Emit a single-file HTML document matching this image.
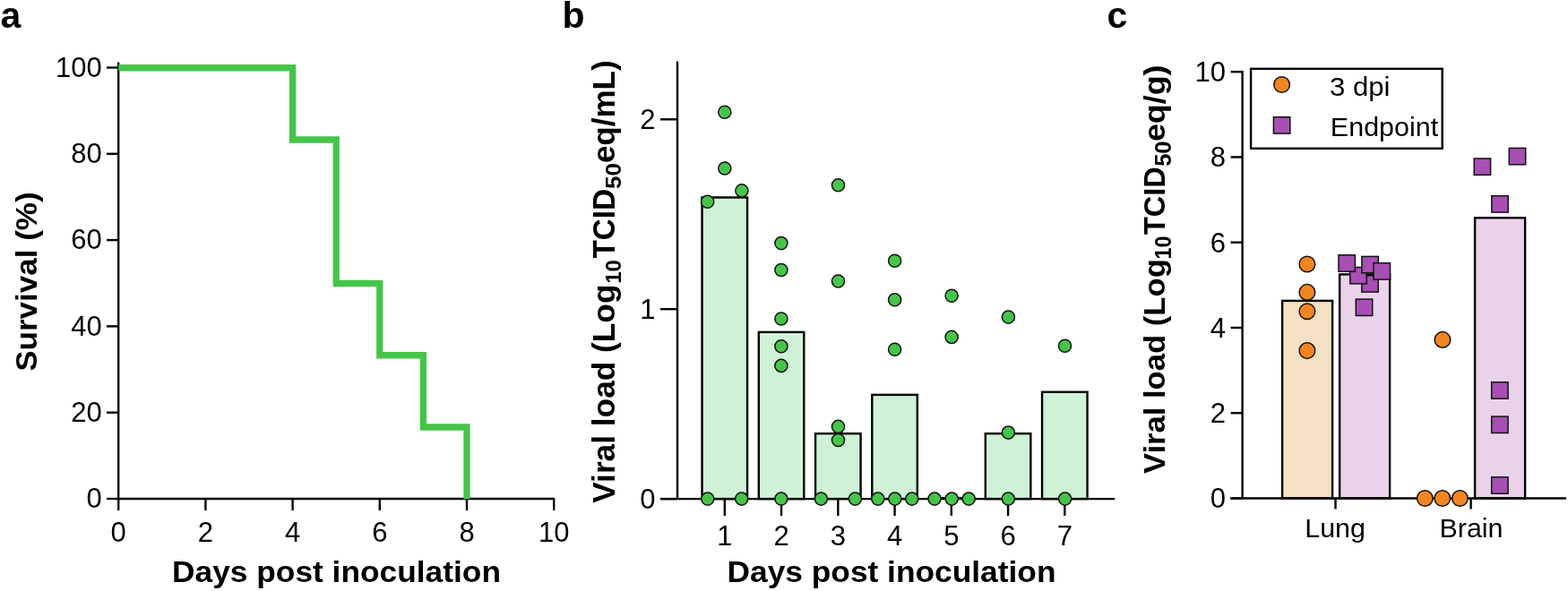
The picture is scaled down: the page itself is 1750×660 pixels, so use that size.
<!DOCTYPE html>
<html><head><meta charset="utf-8"><title>Figure</title>
<style>
html,body{margin:0;padding:0;background:#fff;}
body{width:1750px;height:660px;overflow:hidden;}
svg{display:block;}
text{font-family:"Liberation Sans", Arial, sans-serif;fill:#000;}
</style></head>
<body>
<svg width="1750" height="660" viewBox="0 0 1750 660">
<rect width="1750" height="660" fill="#fff"/>
<text x="0.50" y="31.00" font-size="41" text-anchor="start" font-weight="bold" >a</text>
<line x1="132.20" y1="69.50" x2="132.20" y2="558.20" stroke="#000" stroke-width="2.4" stroke-linecap="butt"/>
<line x1="119.00" y1="557.00" x2="132.20" y2="557.00" stroke="#000" stroke-width="2.4" stroke-linecap="butt"/>
<text x="113.80" y="567.30" font-size="31" text-anchor="end" font-weight="normal" >0</text>
<line x1="119.00" y1="460.70" x2="132.20" y2="460.70" stroke="#000" stroke-width="2.4" stroke-linecap="butt"/>
<text x="113.80" y="471.00" font-size="31" text-anchor="end" font-weight="normal" >20</text>
<line x1="119.00" y1="364.40" x2="132.20" y2="364.40" stroke="#000" stroke-width="2.4" stroke-linecap="butt"/>
<text x="113.80" y="374.70" font-size="31" text-anchor="end" font-weight="normal" >40</text>
<line x1="119.00" y1="268.10" x2="132.20" y2="268.10" stroke="#000" stroke-width="2.4" stroke-linecap="butt"/>
<text x="113.80" y="278.40" font-size="31" text-anchor="end" font-weight="normal" >60</text>
<line x1="119.00" y1="171.80" x2="132.20" y2="171.80" stroke="#000" stroke-width="2.4" stroke-linecap="butt"/>
<text x="113.80" y="182.10" font-size="31" text-anchor="end" font-weight="normal" >80</text>
<line x1="119.00" y1="75.50" x2="132.20" y2="75.50" stroke="#000" stroke-width="2.4" stroke-linecap="butt"/>
<text x="113.80" y="85.80" font-size="31" text-anchor="end" font-weight="normal" >100</text>
<line x1="131.00" y1="557.00" x2="619.00" y2="557.00" stroke="#000" stroke-width="2.4" stroke-linecap="butt"/>
<line x1="132.20" y1="557.00" x2="132.20" y2="570.00" stroke="#000" stroke-width="2.4" stroke-linecap="butt"/>
<text x="132.20" y="605.10" font-size="31" text-anchor="middle" font-weight="normal" >0</text>
<line x1="229.40" y1="557.00" x2="229.40" y2="570.00" stroke="#000" stroke-width="2.4" stroke-linecap="butt"/>
<text x="229.40" y="605.10" font-size="31" text-anchor="middle" font-weight="normal" >2</text>
<line x1="326.60" y1="557.00" x2="326.60" y2="570.00" stroke="#000" stroke-width="2.4" stroke-linecap="butt"/>
<text x="326.60" y="605.10" font-size="31" text-anchor="middle" font-weight="normal" >4</text>
<line x1="423.80" y1="557.00" x2="423.80" y2="570.00" stroke="#000" stroke-width="2.4" stroke-linecap="butt"/>
<text x="423.80" y="605.10" font-size="31" text-anchor="middle" font-weight="normal" >6</text>
<line x1="521.00" y1="557.00" x2="521.00" y2="570.00" stroke="#000" stroke-width="2.4" stroke-linecap="butt"/>
<text x="521.00" y="605.10" font-size="31" text-anchor="middle" font-weight="normal" >8</text>
<line x1="618.20" y1="557.00" x2="618.20" y2="570.00" stroke="#000" stroke-width="2.4" stroke-linecap="butt"/>
<text x="618.20" y="605.10" font-size="31" text-anchor="middle" font-weight="normal" >10</text>
<path d="M132.20,75.75 L326.60,75.75 L326.60,156.00 L375.20,156.00 L375.20,316.50 L423.80,316.50 L423.80,396.75 L472.40,396.75 L472.40,477.00 L521.00,477.00 L521.00,557.25" fill="none" stroke="#46c44a" stroke-width="7.3" stroke-linejoin="miter"/>
<text x="0" y="0" font-size="34" text-anchor="middle" font-weight="bold" transform="translate(40.60 314.60) rotate(-90) scale(1.0300 1)">Survival (%)</text>
<text x="0" y="0" font-size="34" text-anchor="middle" font-weight="bold" transform="translate(375.50 650.10) scale(1.0390 1)">Days post inoculation</text>
<text x="627.50" y="31.00" font-size="41" text-anchor="start" font-weight="bold" >b</text>
<rect x="783.55" y="220.50" width="50.5" height="336.60" fill="#cff2d6" stroke="#000" stroke-width="2.4"/>
<rect x="846.80" y="370.90" width="50.5" height="186.20" fill="#cff2d6" stroke="#000" stroke-width="2.4"/>
<rect x="910.05" y="484.20" width="50.5" height="72.90" fill="#cff2d6" stroke="#000" stroke-width="2.4"/>
<rect x="973.30" y="440.90" width="50.5" height="116.20" fill="#cff2d6" stroke="#000" stroke-width="2.4"/>
<rect x="1099.80" y="484.20" width="50.5" height="72.90" fill="#cff2d6" stroke="#000" stroke-width="2.4"/>
<rect x="1163.05" y="437.80" width="50.5" height="119.30" fill="#cff2d6" stroke="#000" stroke-width="2.4"/>
<line x1="1035.35" y1="556.30" x2="1088.25" y2="556.30" stroke="#000" stroke-width="2.4" stroke-linecap="butt"/>
<line x1="756.00" y1="68.50" x2="756.00" y2="557.10" stroke="#000" stroke-width="2.4" stroke-linecap="butt"/>
<line x1="737.00" y1="557.10" x2="756.00" y2="557.10" stroke="#000" stroke-width="2.4" stroke-linecap="butt"/>
<text x="731.50" y="568.00" font-size="31" text-anchor="end" font-weight="normal" >0</text>
<line x1="737.00" y1="345.20" x2="756.00" y2="345.20" stroke="#000" stroke-width="2.4" stroke-linecap="butt"/>
<text x="731.50" y="356.10" font-size="31" text-anchor="end" font-weight="normal" >1</text>
<line x1="737.00" y1="133.30" x2="756.00" y2="133.30" stroke="#000" stroke-width="2.4" stroke-linecap="butt"/>
<text x="731.50" y="144.20" font-size="31" text-anchor="end" font-weight="normal" >2</text>
<line x1="737.00" y1="557.10" x2="1244.20" y2="557.10" stroke="#000" stroke-width="2.4" stroke-linecap="butt"/>
<line x1="808.80" y1="557.10" x2="808.80" y2="576.00" stroke="#000" stroke-width="2.4" stroke-linecap="butt"/>
<text x="808.80" y="609.00" font-size="31" text-anchor="middle" font-weight="normal" >1</text>
<line x1="872.05" y1="557.10" x2="872.05" y2="576.00" stroke="#000" stroke-width="2.4" stroke-linecap="butt"/>
<text x="872.05" y="609.00" font-size="31" text-anchor="middle" font-weight="normal" >2</text>
<line x1="935.30" y1="557.10" x2="935.30" y2="576.00" stroke="#000" stroke-width="2.4" stroke-linecap="butt"/>
<text x="935.30" y="609.00" font-size="31" text-anchor="middle" font-weight="normal" >3</text>
<line x1="998.55" y1="557.10" x2="998.55" y2="576.00" stroke="#000" stroke-width="2.4" stroke-linecap="butt"/>
<text x="998.55" y="609.00" font-size="31" text-anchor="middle" font-weight="normal" >4</text>
<line x1="1061.80" y1="557.10" x2="1061.80" y2="576.00" stroke="#000" stroke-width="2.4" stroke-linecap="butt"/>
<text x="1061.80" y="609.00" font-size="31" text-anchor="middle" font-weight="normal" >5</text>
<line x1="1125.05" y1="557.10" x2="1125.05" y2="576.00" stroke="#000" stroke-width="2.4" stroke-linecap="butt"/>
<text x="1125.05" y="609.00" font-size="31" text-anchor="middle" font-weight="normal" >6</text>
<line x1="1188.30" y1="557.10" x2="1188.30" y2="576.00" stroke="#000" stroke-width="2.4" stroke-linecap="butt"/>
<text x="1188.30" y="609.00" font-size="31" text-anchor="middle" font-weight="normal" >7</text>
<circle cx="808.80" cy="125.30" r="7.05" fill="#46c44a" stroke="#111" stroke-width="1.5"/>
<circle cx="808.80" cy="188.00" r="7.05" fill="#46c44a" stroke="#111" stroke-width="1.5"/>
<circle cx="827.90" cy="212.90" r="7.05" fill="#46c44a" stroke="#111" stroke-width="1.5"/>
<circle cx="789.70" cy="225.20" r="7.05" fill="#46c44a" stroke="#111" stroke-width="1.5"/>
<circle cx="789.80" cy="557.10" r="7.05" fill="#46c44a" stroke="#111" stroke-width="1.5"/>
<circle cx="827.70" cy="557.10" r="7.05" fill="#46c44a" stroke="#111" stroke-width="1.5"/>
<circle cx="871.90" cy="271.60" r="7.05" fill="#46c44a" stroke="#111" stroke-width="1.5"/>
<circle cx="871.90" cy="301.50" r="7.05" fill="#46c44a" stroke="#111" stroke-width="1.5"/>
<circle cx="871.90" cy="356.00" r="7.05" fill="#46c44a" stroke="#111" stroke-width="1.5"/>
<circle cx="871.90" cy="386.80" r="7.05" fill="#46c44a" stroke="#111" stroke-width="1.5"/>
<circle cx="871.90" cy="408.40" r="7.05" fill="#46c44a" stroke="#111" stroke-width="1.5"/>
<circle cx="871.90" cy="557.10" r="7.05" fill="#46c44a" stroke="#111" stroke-width="1.5"/>
<circle cx="935.50" cy="206.70" r="7.05" fill="#46c44a" stroke="#111" stroke-width="1.5"/>
<circle cx="935.50" cy="314.00" r="7.05" fill="#46c44a" stroke="#111" stroke-width="1.5"/>
<circle cx="935.50" cy="476.40" r="7.05" fill="#46c44a" stroke="#111" stroke-width="1.5"/>
<circle cx="935.50" cy="491.50" r="7.05" fill="#46c44a" stroke="#111" stroke-width="1.5"/>
<circle cx="916.40" cy="557.10" r="7.05" fill="#46c44a" stroke="#111" stroke-width="1.5"/>
<circle cx="954.40" cy="557.10" r="7.05" fill="#46c44a" stroke="#111" stroke-width="1.5"/>
<circle cx="998.60" cy="291.20" r="7.05" fill="#46c44a" stroke="#111" stroke-width="1.5"/>
<circle cx="998.60" cy="334.80" r="7.05" fill="#46c44a" stroke="#111" stroke-width="1.5"/>
<circle cx="998.60" cy="390.30" r="7.05" fill="#46c44a" stroke="#111" stroke-width="1.5"/>
<circle cx="979.80" cy="557.10" r="7.05" fill="#46c44a" stroke="#111" stroke-width="1.5"/>
<circle cx="998.80" cy="557.10" r="7.05" fill="#46c44a" stroke="#111" stroke-width="1.5"/>
<circle cx="1017.80" cy="557.10" r="7.05" fill="#46c44a" stroke="#111" stroke-width="1.5"/>
<circle cx="1062.10" cy="330.30" r="7.05" fill="#46c44a" stroke="#111" stroke-width="1.5"/>
<circle cx="1062.10" cy="376.40" r="7.05" fill="#46c44a" stroke="#111" stroke-width="1.5"/>
<circle cx="1043.00" cy="557.10" r="7.05" fill="#46c44a" stroke="#111" stroke-width="1.5"/>
<circle cx="1062.20" cy="557.10" r="7.05" fill="#46c44a" stroke="#111" stroke-width="1.5"/>
<circle cx="1081.20" cy="557.10" r="7.05" fill="#46c44a" stroke="#111" stroke-width="1.5"/>
<circle cx="1125.40" cy="354.10" r="7.05" fill="#46c44a" stroke="#111" stroke-width="1.5"/>
<circle cx="1125.40" cy="483.10" r="7.05" fill="#46c44a" stroke="#111" stroke-width="1.5"/>
<circle cx="1125.30" cy="557.10" r="7.05" fill="#46c44a" stroke="#111" stroke-width="1.5"/>
<circle cx="1188.50" cy="386.30" r="7.05" fill="#46c44a" stroke="#111" stroke-width="1.5"/>
<circle cx="1188.60" cy="557.10" r="7.05" fill="#46c44a" stroke="#111" stroke-width="1.5"/>
<text x="0" y="0" font-size="34.4" font-weight="bold" transform="translate(685.50 561.80) rotate(-90) scale(1.0254 1)">Viral load (Log</text>
<text x="0" y="0" font-size="23" font-weight="bold" transform="translate(692.50 316.84) rotate(-90) scale(1.0417 1)">10</text>
<text x="0" y="0" font-size="34.4" font-weight="bold" transform="translate(685.50 288.50) rotate(-90) scale(0.9671 1)">TCID</text>
<text x="0" y="0" font-size="23" font-weight="bold" transform="translate(692.50 210.93) rotate(-90) scale(1.1333 1)">50</text>
<text x="0" y="0" font-size="34.4" font-weight="bold" transform="translate(685.50 182.12) rotate(-90) scale(1.0182 1)">eq/mL)</text>
<text x="0" y="0" font-size="34" text-anchor="middle" font-weight="bold" transform="translate(995.00 650.30) scale(1.0390 1)">Days post inoculation</text>
<text x="1235.50" y="31.00" font-size="41" text-anchor="start" font-weight="bold" >c</text>
<rect x="1431.10" y="335.90" width="56.0" height="220.60" fill="#f4e0c3" stroke="#000" stroke-width="2.4"/>
<rect x="1495.10" y="306.40" width="56.0" height="250.10" fill="#ead3ea" stroke="#000" stroke-width="2.4"/>
<rect x="1646.10" y="243.30" width="56.0" height="313.20" fill="#ead3ea" stroke="#000" stroke-width="2.4"/>
<line x1="1386.60" y1="79.00" x2="1386.60" y2="556.50" stroke="#000" stroke-width="2.4" stroke-linecap="butt"/>
<line x1="1373.60" y1="556.50" x2="1386.60" y2="556.50" stroke="#000" stroke-width="2.4" stroke-linecap="butt"/>
<text x="1368.00" y="567.40" font-size="31" text-anchor="end" font-weight="normal" >0</text>
<line x1="1373.60" y1="461.24" x2="1386.60" y2="461.24" stroke="#000" stroke-width="2.4" stroke-linecap="butt"/>
<text x="1368.00" y="472.14" font-size="31" text-anchor="end" font-weight="normal" >2</text>
<line x1="1373.60" y1="365.98" x2="1386.60" y2="365.98" stroke="#000" stroke-width="2.4" stroke-linecap="butt"/>
<text x="1368.00" y="376.88" font-size="31" text-anchor="end" font-weight="normal" >4</text>
<line x1="1373.60" y1="270.72" x2="1386.60" y2="270.72" stroke="#000" stroke-width="2.4" stroke-linecap="butt"/>
<text x="1368.00" y="281.62" font-size="31" text-anchor="end" font-weight="normal" >6</text>
<line x1="1373.60" y1="175.46" x2="1386.60" y2="175.46" stroke="#000" stroke-width="2.4" stroke-linecap="butt"/>
<text x="1368.00" y="186.36" font-size="31" text-anchor="end" font-weight="normal" >8</text>
<line x1="1373.60" y1="80.20" x2="1386.60" y2="80.20" stroke="#000" stroke-width="2.4" stroke-linecap="butt"/>
<text x="1368.00" y="91.10" font-size="31" text-anchor="end" font-weight="normal" >10</text>
<line x1="1373.20" y1="556.50" x2="1748.00" y2="556.50" stroke="#000" stroke-width="2.4" stroke-linecap="butt"/>
<line x1="1490.50" y1="556.50" x2="1490.50" y2="568.50" stroke="#000" stroke-width="2.4" stroke-linecap="butt"/>
<line x1="1641.60" y1="556.50" x2="1641.60" y2="568.50" stroke="#000" stroke-width="2.4" stroke-linecap="butt"/>
<text x="0" y="0" font-size="29" text-anchor="middle" font-weight="normal" transform="translate(1490.10 600.40) scale(1.0500 1)">Lung</text>
<text x="0" y="0" font-size="29" text-anchor="middle" font-weight="normal" transform="translate(1642.00 600.40) scale(1.0500 1)">Brain</text>
<circle cx="1458.90" cy="295.00" r="8.8" fill="#f08522" stroke="#111" stroke-width="1.5"/>
<circle cx="1458.90" cy="326.40" r="8.8" fill="#f08522" stroke="#111" stroke-width="1.5"/>
<circle cx="1458.90" cy="347.70" r="8.8" fill="#f08522" stroke="#111" stroke-width="1.5"/>
<circle cx="1458.90" cy="391.60" r="8.8" fill="#f08522" stroke="#111" stroke-width="1.5"/>
<circle cx="1610.00" cy="379.40" r="8.8" fill="#f08522" stroke="#111" stroke-width="1.5"/>
<circle cx="1590.30" cy="556.50" r="8.8" fill="#f08522" stroke="#111" stroke-width="1.5"/>
<circle cx="1609.80" cy="556.50" r="8.8" fill="#f08522" stroke="#111" stroke-width="1.5"/>
<circle cx="1629.40" cy="556.50" r="8.8" fill="#f08522" stroke="#111" stroke-width="1.5"/>
<rect x="1513.30" y="334.10" width="18.4" height="18.4" fill="#a74fb3" stroke="#111" stroke-width="1.5"/>
<rect x="1519.80" y="307.70" width="18.4" height="18.4" fill="#a74fb3" stroke="#111" stroke-width="1.5"/>
<rect x="1506.80" y="298.50" width="18.4" height="18.4" fill="#a74fb3" stroke="#111" stroke-width="1.5"/>
<rect x="1494.00" y="284.80" width="18.4" height="18.4" fill="#a74fb3" stroke="#111" stroke-width="1.5"/>
<rect x="1519.90" y="286.40" width="18.4" height="18.4" fill="#a74fb3" stroke="#111" stroke-width="1.5"/>
<rect x="1533.10" y="293.70" width="18.4" height="18.4" fill="#a74fb3" stroke="#111" stroke-width="1.5"/>
<rect x="1645.20" y="177.00" width="18.4" height="18.4" fill="#a74fb3" stroke="#111" stroke-width="1.5"/>
<rect x="1684.30" y="165.40" width="18.4" height="18.4" fill="#a74fb3" stroke="#111" stroke-width="1.5"/>
<rect x="1664.80" y="218.70" width="18.4" height="18.4" fill="#a74fb3" stroke="#111" stroke-width="1.5"/>
<rect x="1664.70" y="426.80" width="18.4" height="18.4" fill="#a74fb3" stroke="#111" stroke-width="1.5"/>
<rect x="1664.70" y="465.10" width="18.4" height="18.4" fill="#a74fb3" stroke="#111" stroke-width="1.5"/>
<rect x="1664.70" y="532.80" width="18.4" height="18.4" fill="#a74fb3" stroke="#111" stroke-width="1.5"/>
<rect x="1396.1" y="76.8" width="213.6" height="89.0" fill="#fff" stroke="#000" stroke-width="2.4"/>
<circle cx="1430.6" cy="94.5" r="8.8" fill="#f08522" stroke="#111" stroke-width="1.5"/>
<rect x="1421.40" y="130.70" width="18.4" height="18.4" fill="#a74fb3" stroke="#111" stroke-width="1.5"/>
<text x="0" y="0" font-size="29.5" text-anchor="middle" font-weight="normal" transform="translate(1517.70 106.80) scale(1.0550 1)">3 dpi</text>
<text x="0" y="0" font-size="29.5" text-anchor="middle" font-weight="normal" transform="translate(1545.00 151.80) scale(1.0330 1)">Endpoint</text>
<text x="0" y="0" font-size="33" font-weight="bold" transform="translate(1299.70 529.10) rotate(-90) scale(1.0498 1)">Viral load (Log</text>
<text x="0" y="0" font-size="25" font-weight="bold" transform="translate(1306.70 289.43) rotate(-90) scale(0.9346 1)">10</text>
<text x="0" y="0" font-size="33" font-weight="bold" transform="translate(1299.70 262.00) rotate(-90) scale(0.9855 1)">TCID</text>
<text x="0" y="0" font-size="25" font-weight="bold" transform="translate(1306.70 185.82) rotate(-90) scale(1.0192 1)">50</text>
<text x="0" y="0" font-size="33" font-weight="bold" transform="translate(1299.70 158.09) rotate(-90) scale(1.0868 1)">eq/g)</text>
</svg>
</body></html>
